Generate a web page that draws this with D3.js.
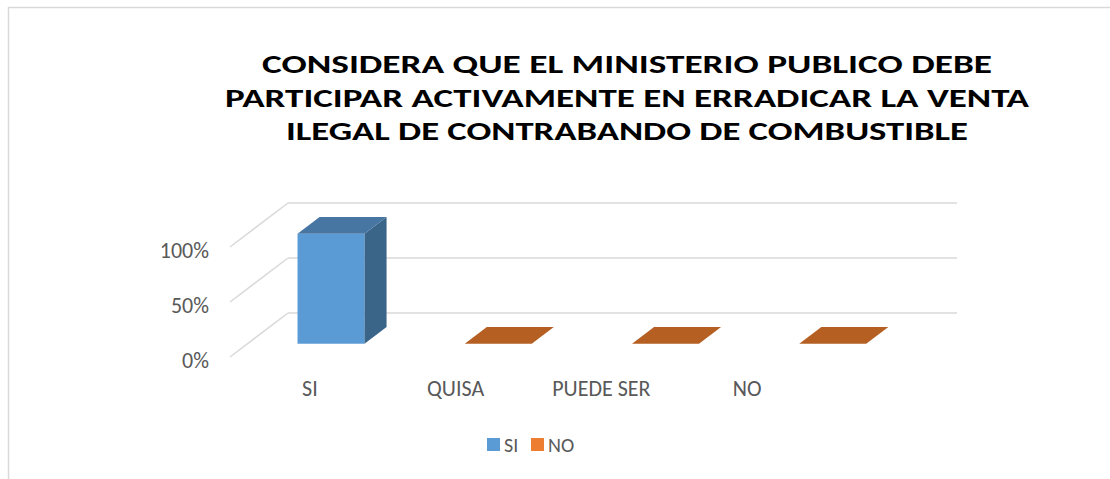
<!DOCTYPE html>
<html>
<head>
<meta charset="utf-8">
<script src="https://cdn.jsdelivr.net/npm/d3@7"></script>
<style>
  body { margin: 0; background: #fff; }
  svg { display: block; font-family: Carlito, Lato, "Open Sans", sans-serif; }
</style>
</head>
<body>
<svg id="chart" width="1110" height="479"></svg>
<script>
// data
const categories = ['SI', 'QUISA', 'PUEDE SER', 'NO'];
const seriesNames = ['SI', 'NO'];
const siValues = [1, null, null, null];
const noValues = [null, 0, 0, 0];
const yTicks = [0, 0.5, 1];
const titleLines = [
  'CONSIDERA QUE EL MINISTERIO PUBLICO DEBE',
  'PARTICIPAR ACTIVAMENTE EN ERRADICAR LA VENTA',
  'ILEGAL DE CONTRABANDO DE COMBUSTIBLE'
];

const svg = d3.select('#chart');

// chart border (runs off the picture on right and bottom)
svg.append('rect')
  .attr('x', 8.5).attr('y', 7.5)
  .attr('width', 1120).attr('height', 500)
  .attr('fill', 'none')
  .attr('stroke', '#d9d9d9')
  .attr('stroke-width', 1.5);

// title
const titleWidths = [730, 804, 682];
svg.append('g').selectAll('text')
  .data(titleLines)
    .enter()
      .append('text')
        .attr('x', 627)
        .attr('y', (d, i) => 73 + i * 33.5)
        .attr('text-anchor', 'middle')
        .attr('font-size', 26)
        .attr('font-weight', 'bold')
        .attr('fill', '#000')
        .attr('textLength', (d, i) => titleWidths[i])
        .attr('lengthAdjust', 'spacingAndGlyphs')
        .text(d => d);

// 3d frame: front floor edge and depth offset
const frontLeft = 230, frontRight = 899;
const depth = { dx: 58, dy: -44 };

const y = d3.scaleLinear().domain([0, 1]).range([357, 247]);
const x = d3.scaleBand().domain(categories).range([frontLeft, frontRight]).paddingInner(0).paddingOuter(0);
const barW = 67;
const barDepth = [0.3, 0.68];

// gridlines: side wall diagonals + back wall
const grid = svg.append('g').attr('stroke', '#d9d9d9').attr('stroke-width', 1.5);
grid.selectAll('.side')
  .data(yTicks)
    .enter()
      .append('line')
        .attr('x1', frontLeft).attr('y1', d => y(d))
        .attr('x2', frontLeft + depth.dx).attr('y2', d => y(d) + depth.dy);
grid.selectAll('.back')
  .data(yTicks)
    .enter()
      .append('line')
        .attr('x1', frontLeft + depth.dx).attr('y1', d => y(d) + depth.dy)
        .attr('x2', frontRight + depth.dx).attr('y2', d => y(d) + depth.dy);

// y axis labels
const yAxis = d3.axisLeft(y)
  .tickValues(yTicks)
  .tickFormat(d3.format('.0%'))
  .tickSize(0)
  .tickPadding(0);
const yg = svg.append('g').attr('transform', 'translate(209,3)').call(yAxis);
yg.select('.domain').remove();
yg.selectAll('text')
  .attr('font-family', 'Carlito, Lato, "Open Sans", sans-serif')
  .attr('font-size', 22)
  .attr('fill', '#595959');

// bars
function boxPath(cat, v) {
  const f0 = barDepth[0], f1 = barDepth[1];
  const x0 = x(cat) + (x.bandwidth() - barW) / 2 + depth.dx * f0;
  const yb = y(0) + depth.dy * f0;
  const yt = y(v) + depth.dy * f0;
  const ddx = depth.dx * (f1 - f0), ddy = depth.dy * (f1 - f0);
  return {
    front: [[x0, yb], [x0 + barW, yb], [x0 + barW, yt], [x0, yt]],
    side: [[x0 + barW, yb], [x0 + barW + ddx, yb + ddy], [x0 + barW + ddx, yt + ddy], [x0 + barW, yt]],
    top: [[x0, yt], [x0 + barW, yt], [x0 + barW + ddx, yt + ddy], [x0 + ddx, yt + ddy]]
  };
}
const line = d3.line();

const series = [
  { name: seriesNames[0], values: siValues, front: '#5b9bd5', side: '#3a6488', top: '#4776a3', legend: '#5b9bd5' },
  { name: seriesNames[1], values: noValues, front: '#ed7d31', side: '#9c5220', top: '#b55f22', legend: '#ed7d31' }
];

series.forEach(s => {
  const data = categories.map((c, i) => ({ cat: c, v: s.values[i] })).filter(d => d.v !== null);
  const g = svg.append('g');
  data.forEach(d => {
    const b = boxPath(d.cat, d.v);
    if (d.v > 0) {
      g.append('path').attr('d', line(b.front) + 'Z').attr('fill', s.front);
      g.append('path').attr('d', line(b.side) + 'Z').attr('fill', s.side);
    }
    g.append('path').attr('d', line(b.top) + 'Z').attr('fill', s.top);
  });
});

// category labels
const labelX = d3.scaleBand().domain(categories).range([237, 820]);
const xAxis = d3.axisBottom(labelX).tickSize(0).tickPadding(0);
const xg = svg.append('g').attr('transform', 'translate(0,380)').call(xAxis);
xg.select('.domain').remove();
xg.selectAll('text')
  .attr('font-family', 'Carlito, Lato, "Open Sans", sans-serif')
  .attr('font-size', 22)
  .attr('fill', '#595959');

// legend
const legend = svg.append('g');
const legendX = [487, 531];
legend.selectAll('rect')
  .data(series)
    .enter()
      .append('rect')
        .attr('x', (d, i) => legendX[i])
        .attr('y', 438)
        .attr('width', 13).attr('height', 13)
        .attr('fill', d => d.legend);
legend.selectAll('text')
  .data(series)
    .enter()
      .append('text')
        .attr('x', (d, i) => legendX[i] + 17)
        .attr('y', 452)
        .attr('font-size', 20)
        .attr('fill', '#595959')
        .text(d => d.name);
</script>
</body>
</html>
